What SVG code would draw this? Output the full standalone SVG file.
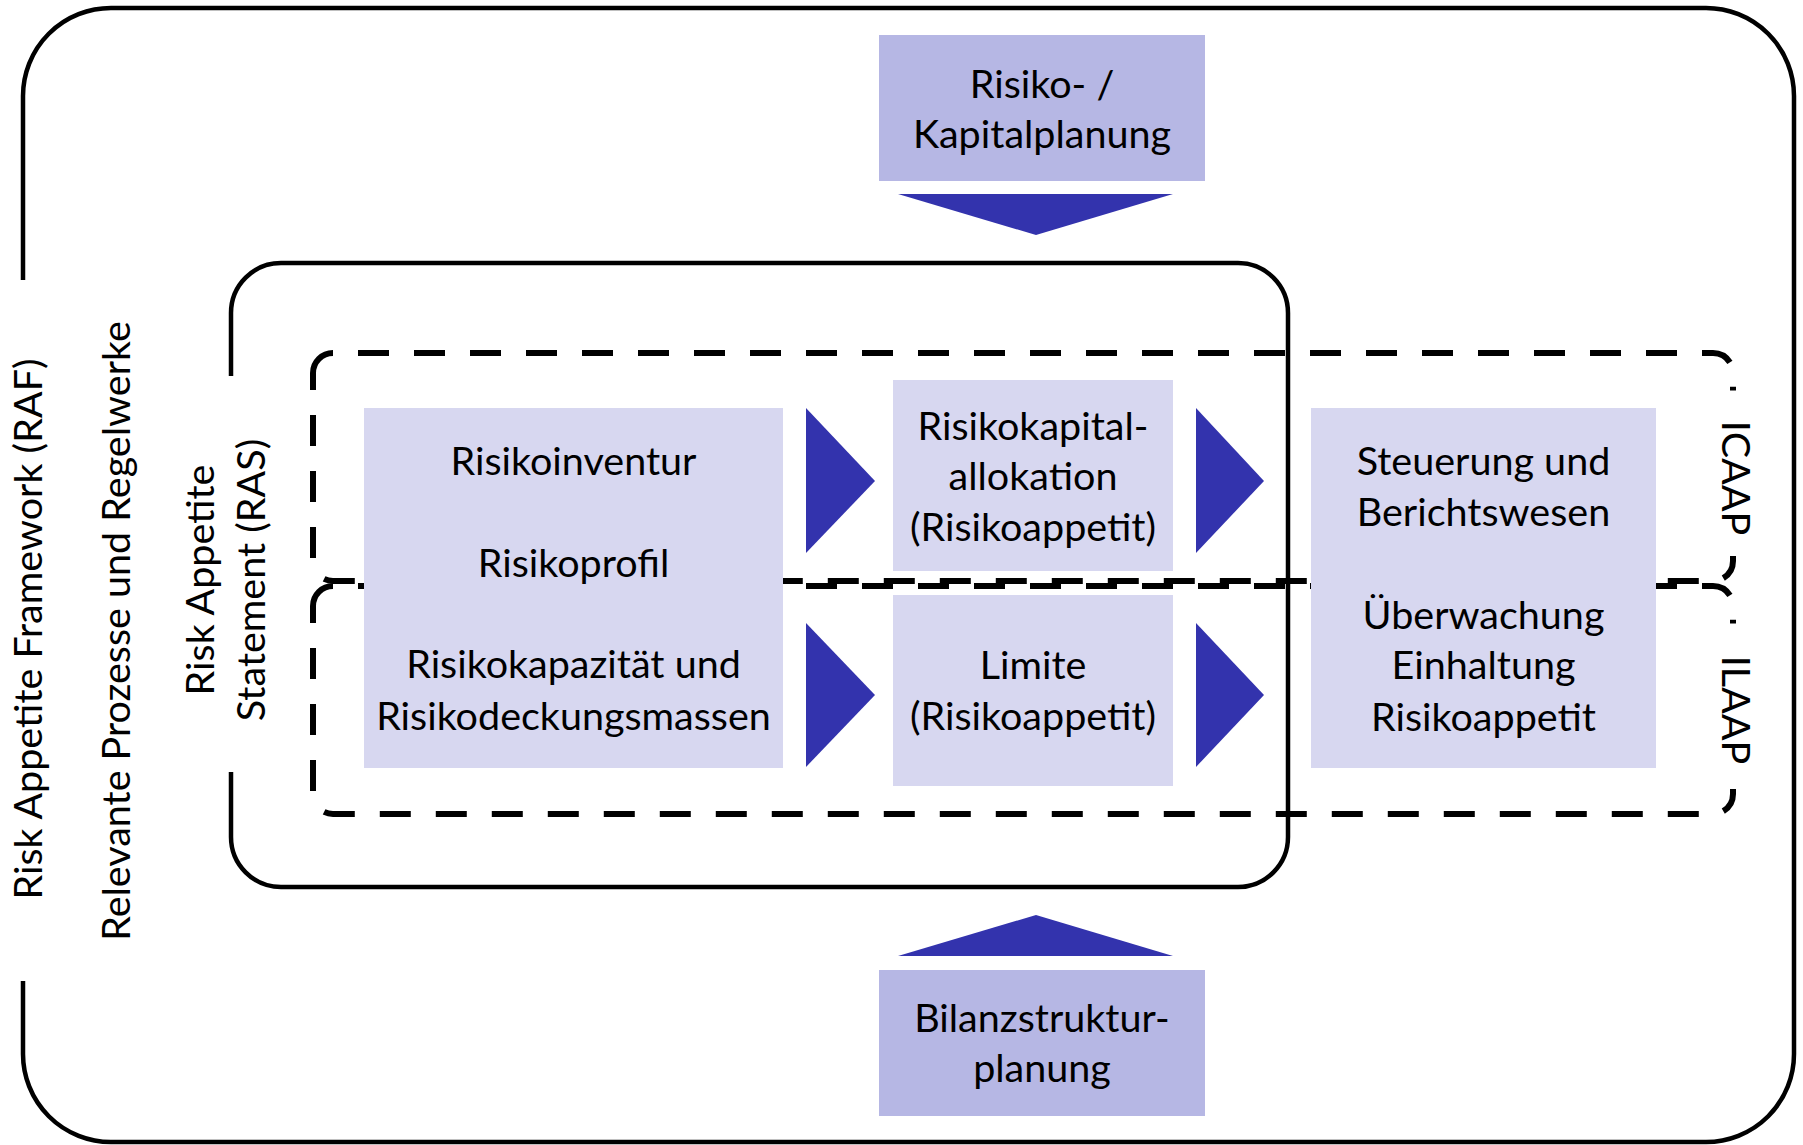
<svg xmlns="http://www.w3.org/2000/svg" width="1803" height="1145" viewBox="0 0 1803 1145">
  <style>
    .frame { fill: none; stroke: #000; stroke-width: 4.5; }
    .dash { fill: none; stroke: #000; stroke-width: 6; stroke-dasharray: 31 25; stroke-dashoffset: 31; }
    .solid { fill: none; stroke: #000; stroke-width: 6; }
    .plan { fill: #b6b7e4; }
    .step { fill: #d7d7f0; }
    .arrow { fill: #3333ad; }
    text { font-family: Lato, "Liberation Sans", sans-serif; font-size: 39.5px; fill: #000; }
    .c { text-anchor: middle; }
  </style>

  <!-- Outer frame: Risk Appetite Framework, open on the left for its label -->
  <g id="raf-frame">
    <path class="frame" d="M23,280 V96 A88,88 0 0 1 111,8 H1706 A88,88 0 0 1 1794,96 V1054 A88,88 0 0 1 1706,1142 H111 A88,88 0 0 1 23,1054 V981"/>
    <text class="c" transform="translate(42,629) rotate(-90)">Risk Appetite Framework (RAF)</text>
    <text class="c" transform="translate(130,631) rotate(-90)">Relevante Prozesse und Regelwerke</text>
  </g>

  <!-- Inner frame: Risk Appetite Statement -->
  <g id="ras-frame">
    <path class="frame" d="M231,376 V313 A50,50 0 0 1 281,263 H1238 A50,50 0 0 1 1288,313 V837 A50,50 0 0 1 1238,887 H281 A50,50 0 0 1 231,837 V772"/>
    <text class="c" transform="translate(214,580) rotate(-90)">Risk Appetite</text>
    <text class="c" transform="translate(265,580) rotate(-90)">Statement (RAS)</text>
  </g>

  <!-- Dashed band: ICAAP -->
  <g id="icaap">
    <path class="solid" d="M333,353 A20,20 0 0 0 313,373 V390"/>
    <path class="dash" d="M313,390 V561 A20,20 0 0 0 333,581 H1713 A20,20 0 0 0 1733,561 V556"/>
    <path class="dash" d="M333,353 H1713 A20,20 0 0 1 1733,373 V390.5"/>
    <text transform="translate(1722,478) rotate(90)" class="c">ICAAP</text>
  </g>

  <!-- Dashed band: ILAAP -->
  <g id="ilaap">
    <path class="solid" d="M333,586 A20,20 0 0 0 313,606 V623"/>
    <path class="dash" d="M313,623 V794 A20,20 0 0 0 333,814 H1713 A20,20 0 0 0 1733,794 V789"/>
    <path class="dash" d="M333,586 H1713 A20,20 0 0 1 1733,606 V623.5"/>
    <text transform="translate(1722,710) rotate(90)" class="c">ILAAP</text>
  </g>

  <!-- Flow arrows -->
  <g id="connectors">
    <polygon class="arrow" points="898,194 1173,194 1036,235"/>
    <polygon class="arrow" points="898,956 1173,956 1036,915"/>
    <polygon class="arrow" points="806,408 806,553 875,481"/>
    <polygon class="arrow" points="806,623 806,767 875,695"/>
    <polygon class="arrow" points="1196,408 1196,553 1264,481"/>
    <polygon class="arrow" points="1196,623 1196,767 1264,695"/>
  </g>

  <g id="kapitalplanung">
    <rect class="plan" x="879" y="35" width="326" height="146"/>
    <text class="c" x="1042" y="98">Risiko- /</text>
    <text class="c" x="1042" y="148">Kapitalplanung</text>
  </g>

  <g id="bilanzstrukturplanung">
    <rect class="plan" x="879" y="970" width="326" height="146"/>
    <text class="c" x="1042" y="1032">Bilanzstruktur-</text>
    <text class="c" x="1042" y="1082">planung</text>
  </g>

  <g id="risikoinventur">
    <rect class="step" x="364" y="408" width="419" height="360"/>
    <text class="c" x="573.5" y="475">Risikoinventur</text>
    <text class="c" x="573.5" y="577">Risikoprofil</text>
    <text class="c" x="573.5" y="678">Risikokapazität und</text>
    <text class="c" x="573.5" y="730">Risikodeckungsmassen</text>
  </g>

  <g id="risikokapitalallokation">
    <rect class="step" x="893" y="380" width="280" height="191"/>
    <text class="c" x="1033" y="440">Risikokapital-</text>
    <text class="c" x="1033" y="490">allokation</text>
    <text class="c" x="1033" y="541">(Risikoappetit)</text>
  </g>

  <g id="limite">
    <rect class="step" x="893" y="595" width="280" height="191"/>
    <text class="c" x="1033" y="679">Limite</text>
    <text class="c" x="1033" y="730">(Risikoappetit)</text>
  </g>

  <g id="steuerung">
    <rect class="step" x="1311" y="408" width="345" height="360"/>
    <text class="c" x="1483.5" y="475">Steuerung und</text>
    <text class="c" x="1483.5" y="526">Berichtswesen</text>
    <text class="c" x="1483.5" y="629">Überwachung</text>
    <text class="c" x="1483.5" y="679">Einhaltung</text>
    <text class="c" x="1483.5" y="731">Risikoappetit</text>
  </g>
</svg>
